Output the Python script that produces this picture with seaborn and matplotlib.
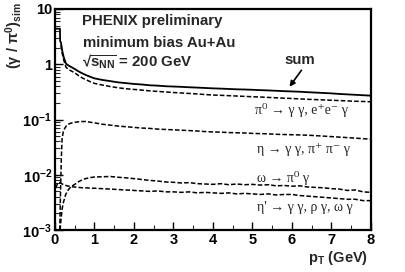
import matplotlib
matplotlib.use("Agg")
import matplotlib.pyplot as plt
import numpy as np
import pandas as pd
import seaborn as sns

# pT grid above 1 GeV shared by all curves
pt_hi = [1.0, 1.2, 1.4, 1.6, 1.8, 2.0, 2.2, 2.4, 2.6, 2.8, 3.0, 3.2, 3.4, 3.6, 3.8, 4.0,
         4.2, 4.4, 4.6, 4.8, 5.0, 5.2, 5.4, 5.6, 5.8, 6.0, 6.2, 6.4, 6.6, 6.8, 7.0, 7.2,
         7.4, 7.6, 7.8, 8.0]

# sum (solid)
sum_pt_lo = [0.03, 0.125, 0.13, 0.15, 0.18, 0.22, 0.28, 0.35, 0.45, 0.5, 0.6, 0.7, 0.8, 0.9]
sum_lo = [4.4, 4.4, 2.6, 2.5, 1.8, 1.35, 1.02, 0.94, 0.86, 0.82, 0.74, 0.68, 0.63, 0.59]
sum_hi = [0.555, 0.52, 0.495, 0.47, 0.455, 0.44, 0.43, 0.416, 0.41, 0.40, 0.395, 0.39,
          0.383, 0.378, 0.372, 0.366, 0.362, 0.357, 0.352, 0.349, 0.345, 0.34, 0.336,
          0.331, 0.326, 0.322, 0.318, 0.312, 0.307, 0.302, 0.297, 0.29, 0.285, 0.28,
          0.275, 0.27]

# pi0
pi0_pt_lo = [0.15, 0.18, 0.22, 0.28, 0.35, 0.45, 0.5, 0.6, 0.7, 0.8, 0.9]
pi0_lo = [2.2, 1.6, 1.2, 0.88, 0.8, 0.73, 0.70, 0.62, 0.56, 0.52, 0.48]
pi0_hi = [0.45, 0.42, 0.395, 0.375, 0.36, 0.35, 0.34, 0.33, 0.322, 0.315, 0.308, 0.302,
          0.296, 0.29, 0.283, 0.277, 0.274, 0.27, 0.266, 0.262, 0.258, 0.255, 0.251,
          0.247, 0.243, 0.240, 0.236, 0.232, 0.229, 0.226, 0.223, 0.22, 0.217, 0.214,
          0.212, 0.209]

# eta
eta_pt_lo = [0.12, 0.14, 0.16, 0.18, 0.21, 0.25, 0.3, 0.38, 0.5, 0.6, 0.7, 0.8, 0.9]
eta_lo = [0.001, 0.005, 0.02, 0.045, 0.06, 0.07, 0.079, 0.085, 0.089, 0.091, 0.092,
          0.092, 0.089]
eta_hi = [0.087, 0.082, 0.079, 0.076, 0.074, 0.072, 0.070, 0.069, 0.067, 0.066, 0.065,
          0.064, 0.063, 0.062, 0.0605, 0.0595, 0.059, 0.058, 0.0575, 0.057, 0.056,
          0.0555, 0.055, 0.054, 0.0535, 0.053, 0.0525, 0.052, 0.051, 0.050, 0.049,
          0.048, 0.047, 0.046, 0.045, 0.044]

# omega
omega_pt_lo = [0.13, 0.15, 0.18, 0.21, 0.27, 0.34, 0.42, 0.5, 0.6, 0.7, 0.8, 0.9]
omega_lo = [0.001, 0.0015, 0.0024, 0.0031, 0.0044, 0.0054, 0.0062, 0.0067, 0.0075,
            0.0082, 0.0086, 0.0089]
omega_hi = [0.0091, 0.0092, 0.0093, 0.0090, 0.0088, 0.0085, 0.0082, 0.0079, 0.0077,
            0.0074, 0.0073, 0.0071, 0.0072, 0.0069, 0.0068, 0.0067, 0.0069, 0.0066,
            0.0068, 0.0066, 0.0067, 0.0065, 0.0066, 0.0063, 0.0064, 0.0062, 0.0063,
            0.0060, 0.0059, 0.0058, 0.0056, 0.0055, 0.0052, 0.0053, 0.0049, 0.0048]

# eta prime
etap_pt_lo = [0.02, 0.06, 0.1, 0.15, 0.2, 0.3, 0.4, 0.5, 0.6, 0.7, 0.8, 0.9]
etap_lo = [0.0058, 0.0068, 0.0073, 0.0070, 0.0067, 0.0063, 0.0061, 0.0060, 0.0059,
           0.0058, 0.0058, 0.0057]
etap_hi = [0.0057, 0.0056, 0.0055, 0.0054, 0.0053, 0.0052, 0.0051, 0.0050, 0.0051,
           0.0049, 0.0049, 0.0048, 0.0049, 0.0047, 0.0048, 0.0047, 0.0046, 0.0047,
           0.0045, 0.0046, 0.0045, 0.0044, 0.0045, 0.0043, 0.0044, 0.0044, 0.0042,
           0.0041, 0.0040, 0.0039, 0.0038, 0.0037, 0.0036, 0.0036, 0.0034, 0.0034]

ytick_vals = [1e-3, 1e-2, 1e-1, 1, 10]
ytick_labels = [r"10$^{\mathbf{-3}}$", r"10$^{\mathbf{-2}}$", r"10$^{\mathbf{-1}}$", "1", "10"]
xtick_vals = [0, 1, 2, 3, 4, 5, 6, 7, 8]

sns.set_theme(style="ticks")
plt.rcParams["font.family"] = ["Liberation Sans", "DejaVu Sans"]
plt.rcParams["mathtext.fontset"] = "custom"
plt.rcParams["mathtext.rm"] = "Liberation Sans:bold"
plt.rcParams["mathtext.bf"] = "Liberation Sans:bold"
plt.rcParams["mathtext.it"] = "Liberation Sans:bold"
plt.rcParams["mathtext.default"] = "bf"

fig = plt.figure(figsize=(4.06, 2.72), dpi=100)
ax = fig.add_axes([55 / 406, 1 - 230 / 272, 316 / 406, 221 / 272])

dash = (3, 1.4)
sns.lineplot(x=sum_pt_lo + pt_hi, y=sum_lo + sum_hi, ax=ax, color="black", lw=1.3,
             estimator=None, sort=False)
for ptl, lo, hi in [(pi0_pt_lo, pi0_lo, pi0_hi), (eta_pt_lo, eta_lo, eta_hi),
                    (omega_pt_lo, omega_lo, omega_hi), (etap_pt_lo, etap_lo, etap_hi)]:
    sns.lineplot(x=ptl + pt_hi, y=lo + hi, ax=ax, color="black", lw=1.1,
                 estimator=None, sort=False, dashes=False, linestyle=(0, dash))

ax.set_yscale("log")
ax.set_xlim(0, 8)
ax.set_ylim(1e-3, 10)
ax.set_yticks(ytick_vals)
ax.set_yticklabels(ytick_labels, fontsize=10.5, fontweight="bold")
ax.set_xticks(xtick_vals)
ax.set_xticklabels([str(v) for v in xtick_vals], fontsize=10.5, fontweight="bold")
ax.set_xticks(np.arange(0.5, 8, 1.0), minor=True)
ax.tick_params(axis="both", which="major", direction="in", length=6, width=1.0,
               pad=2, colors="black")
ax.tick_params(axis="both", which="minor", direction="in", length=3.5, width=0.8)
ax.tick_params(axis="x", which="both", top=False)
ax.tick_params(axis="y", which="both", right=False)
for s in ax.spines.values():
    s.set_linewidth(1.6)
    s.set_color("black")
ax.set_xlabel("")
ax.set_ylabel("")

ax.text(0.99, -0.127, r"p$_{\mathbf{T}}$ (GeV)", transform=ax.transAxes, ha="right",
        va="center", fontsize=10.5, fontweight="bold")
fig.text(14 / 406, 1 - 36 / 272, r"($\gamma$ / $\pi^{\mathbf{0}}$)$_{\mathbf{sim}}$",
         rotation=90, ha="center", va="center", fontsize=10.5, fontweight="bold")

ax.text(0.085, 0.946, "PHENIX preliminary", transform=ax.transAxes, ha="left",
        va="center", fontsize=10.8, fontweight="bold")
ax.text(0.089, 0.846, "minimum bias Au+Au", transform=ax.transAxes, ha="left",
        va="center", fontsize=10.8, fontweight="bold")
ax.text(0.085, 0.76, r"√$\overline{\mathbf{s_{NN}}}$ = 200 GeV", transform=ax.transAxes,
        ha="left", va="center", fontsize=10.8, fontweight="bold")
ax.text(0.775, 0.769, "sum", transform=ax.transAxes, ha="center", va="center",
        fontsize=10.8, fontweight="bold")
ax.annotate("", xy=(0.737, 0.638), xytext=(0.785, 0.733), xycoords="axes fraction",
            textcoords="axes fraction",
            arrowprops=dict(arrowstyle="-|>", color="black", lw=1.2, mutation_scale=8))

serif = ["Liberation Serif", "DejaVu Serif"]
ax.text(0.633, 0.543, "π⁰ → γ γ, e⁺e⁻ γ", transform=ax.transAxes, ha="left",
        va="center", fontsize=10, family=serif)
ax.text(0.639, 0.362, "η → γ γ, π⁺ π⁻ γ", transform=ax.transAxes, ha="left",
        va="center", fontsize=10, family=serif)
ax.text(0.639, 0.235, "ω → π⁰ γ", transform=ax.transAxes, ha="left",
        va="center", fontsize=10, family=serif)
ax.text(0.639, 0.10, "η' → γ γ, ρ γ, ω γ", transform=ax.transAxes, ha="left",
        va="center", fontsize=10, family=serif)

plt.savefig("out.png", dpi=100)
